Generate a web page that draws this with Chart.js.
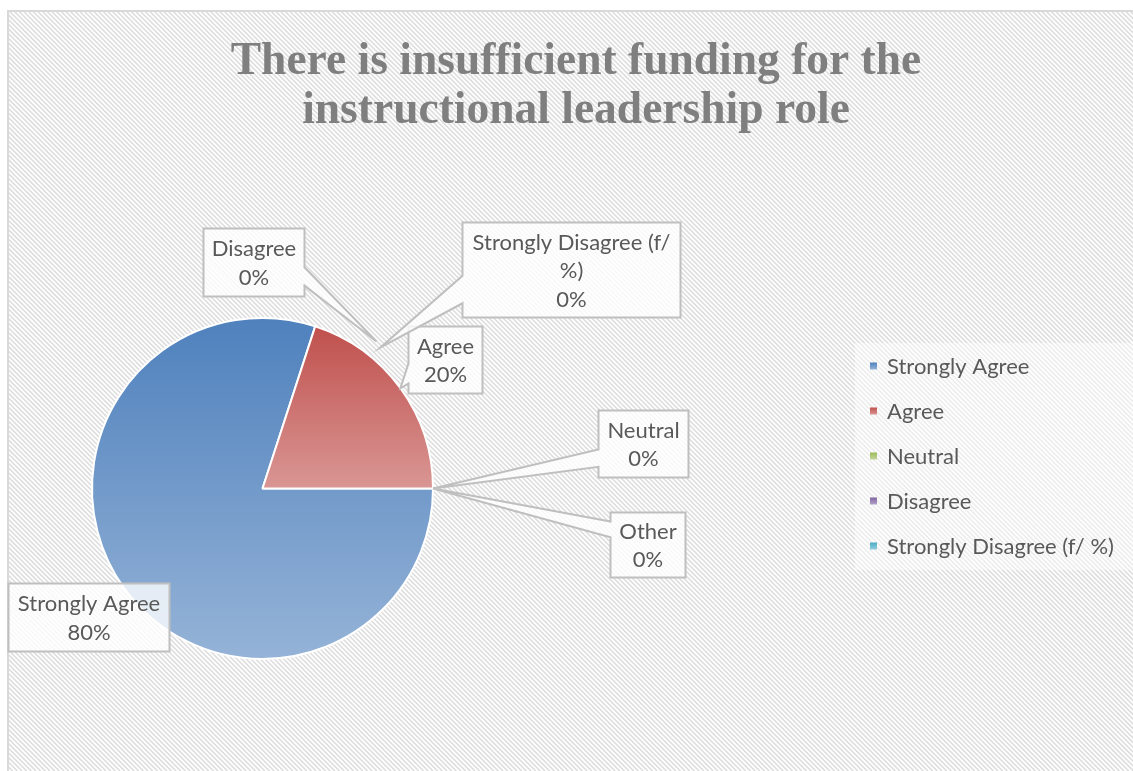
<!DOCTYPE html>
<html>
<head>
<meta charset="utf-8">
<title>Instructional leadership funding</title>
<script src="https://cdn.jsdelivr.net/npm/chart.js@4.4.1/dist/chart.umd.min.js"></script>
<style>
  html, body { margin: 0; padding: 0; background: #ffffff; }
  #wrap { position: relative; width: 1133px; height: 771px; }
</style>
</head>
<body>
<div id="wrap"><canvas id="chart"></canvas></div>
<script>
// ---- data ----
const categories = ['Strongly Agree', 'Agree', 'Neutral', 'Disagree', 'Strongly Disagree (f/ %)', 'Other'];
const responses = [80, 20, 0, 0, 0, 0];
const legendCategories = ['Strongly Agree', 'Agree', 'Neutral', 'Disagree', 'Strongly Disagree (f/ %)'];
const titleLines = ['There is insufficient funding for the', 'instructional leadership role'];

// ---- styling ----
const palette = {
  'Strongly Agree': ['#4F81BD', '#95B3D7'],
  'Agree': ['#C0504D', '#D99694'],
  'Neutral': ['#9BBB59', '#C3D69B'],
  'Disagree': ['#8064A2', '#B3A2C7'],
  'Strongly Disagree (f/ %)': ['#4BACC6', '#93CDDD'],
  'Other': ['#F79646', '#FAC090']
};
const TEXT_COLOR = '#595959';
const LABEL_FONT = "22px Lato, 'Open Sans', sans-serif";
const TITLE_FONT = "bold 45.5px 'Liberation Serif', 'DejaVu Serif', serif";
const SLICE_BORDER = 2;

// callout boxes: [dx, dy, w, h] from the pie centre; wedge side, wedge base (fractions of box height), tip
const calloutLayout = {
  'Strongly Agree': { box: [-254, 95, 161, 68] },
  'Agree': { box: [146, -162, 74, 67], side: 'left', base: [0.55, 0.85], tip: 'arc' },
  'Neutral': { box: [336, -78, 90, 67], side: 'left', base: [0.58, 0.84], tip: 'arc' },
  'Disagree': { box: [-59, -260, 101, 68], side: 'right', base: [0.57, 0.84], tip: [114, -147] },
  'Strongly Disagree (f/ %)': { box: [200, -266, 218, 95], side: 'left', base: [0.56, 0.85], tip: [118, -141] },
  'Other': { box: [348, 24, 75, 65], side: 'left', base: [0.14, 0.38], tip: 'arc' }
};
const legendLayout = { x: 870, y: 366, gap: 45, box: 7, textX: 887, panel: [855, 343, 278, 227] };
const titleLayout = { x: 576, baselines: [74, 123] };
const frame = { x: 8, y: 11 };

// vertical extent of a pie sector (angles clockwise from 3 o'clock)
function sectorExtent(a0, a1) {
  let lo = 0, hi = 0;
  [a0, a1].forEach(a => { const s = Math.sin(a); lo = Math.min(lo, s); hi = Math.max(hi, s); });
  for (let k = -2; k <= 4; k++) {
    const a = Math.PI / 2 + k * Math.PI;
    if (a > a0 && a < a1) { const s = Math.sin(a); lo = Math.min(lo, s); hi = Math.max(hi, s); }
  }
  return [lo, hi];
}

function sliceFill(context) {
  const chart = context.chart;
  const area = chart.chartArea;
  const i = context.dataIndex;
  if (!area || i === undefined) return palette[categories[0]][0];
  const cols = palette[categories[i]];
  const total = responses.reduce((a, b) => a + b, 0);
  const start = (chart.options.rotation - 90) * Math.PI / 180;
  let before = 0;
  for (let k = 0; k < i; k++) before += responses[k];
  const a0 = start + before / total * Math.PI * 2;
  const a1 = a0 + responses[i] / total * Math.PI * 2;
  const cy = (area.top + area.bottom) / 2;
  const r = (Math.min(area.width, area.height) - SLICE_BORDER) / 2;
  const [lo, hi] = sectorExtent(a0, a1);
  const y0 = cy + lo * r, y1 = cy + hi * r;
  if (y1 - y0 < 1) return cols[0];
  const g = chart.ctx.createLinearGradient(0, y0, 0, y1);
  g.addColorStop(0, cols[0]);
  g.addColorStop(1, cols[1]);
  return g;
}

function wrapText(ctx, text, maxWidth) {
  const words = text.split(' ');
  const lines = [];
  let line = '';
  words.forEach(w => {
    const test = line ? line + ' ' + w : w;
    if (line && ctx.measureText(test).width > maxWidth) { lines.push(line); line = w; }
    else line = test;
  });
  if (line) lines.push(line);
  return lines;
}

const backdropPlugin = {
  id: 'backdrop',
  beforeDraw(chart) {
    const ctx = chart.ctx;
    const W = chart.width, H = chart.height;
    ctx.save();
    ctx.fillStyle = '#ffffff';
    ctx.fillRect(0, 0, W, H);
    // hatched plot surface
    ctx.beginPath();
    ctx.rect(frame.x, frame.y, W - frame.x, H - frame.y);
    ctx.clip();
    ctx.strokeStyle = '#DEDEDE';
    ctx.lineWidth = 1.65;
    ctx.beginPath();
    const span = H - frame.y;
    for (let k = frame.x - span; k < W + 5; k += 4.67) {
      ctx.moveTo(k, frame.y);
      ctx.lineTo(k + span, frame.y + span);
    }
    ctx.stroke();
    ctx.restore();

    ctx.save();
    ctx.strokeStyle = '#D9D9D9';
    ctx.lineWidth = 2;
    ctx.beginPath();
    ctx.moveTo(frame.x, H);
    ctx.lineTo(frame.x, frame.y);
    ctx.lineTo(W, frame.y);
    ctx.stroke();

    // title
    ctx.fillStyle = '#7F7F7F';
    ctx.font = TITLE_FONT;
    ctx.textAlign = 'center';
    ctx.textBaseline = 'alphabetic';
    titleLines.forEach((t, i) => ctx.fillText(t, titleLayout.x, titleLayout.baselines[i]));

    // legend
    const p = legendLayout.panel;
    ctx.fillStyle = 'rgba(255,255,255,0.45)';
    ctx.fillRect(p[0], p[1], p[2], p[3]);
    ctx.font = LABEL_FONT;
    ctx.textAlign = 'left';
    ctx.textBaseline = 'middle';
    legendCategories.forEach((name, i) => {
      const y = legendLayout.y + i * legendLayout.gap;
      const b = legendLayout.box;
      const cols = palette[name];
      const g = ctx.createLinearGradient(0, y - b / 2, 0, y + b / 2);
      g.addColorStop(0, cols[0]);
      g.addColorStop(1, cols[1]);
      ctx.fillStyle = g;
      ctx.fillRect(legendLayout.x, y - b / 2, b, b);
      ctx.fillStyle = TEXT_COLOR;
      ctx.fillText(name, legendLayout.textX, y + 1);
    });
    ctx.restore();
  }
};

const calloutPlugin = {
  id: 'callouts',
  afterDatasetsDraw(chart) {
    const ctx = chart.ctx;
    const meta = chart.getDatasetMeta(0);
    const values = chart.data.datasets[0].data;
    const total = values.reduce((a, b) => a + b, 0);
    ctx.save();
    ctx.font = LABEL_FONT;
    ctx.textAlign = 'center';
    ctx.textBaseline = 'middle';
    meta.data.forEach((arc, i) => {
      const name = chart.data.labels[i];
      const lay = calloutLayout[name];
      if (!lay) return;
      const cx = arc.x, cy = arc.y;
      const [dx, dy, w, h] = lay.box;
      const x = cx + dx, y = cy + dy;
      let tip = null;
      if (lay.tip === 'arc') {
        const mid = (arc.startAngle + arc.endAngle) / 2;
        tip = { x: cx + Math.cos(mid) * arc.outerRadius, y: cy + Math.sin(mid) * arc.outerRadius };
      } else if (lay.tip) {
        tip = { x: cx + lay.tip[0], y: cy + lay.tip[1] };
      }
      ctx.beginPath();
      ctx.moveTo(x, y);
      ctx.lineTo(x + w, y);
      if (tip && lay.side === 'right') {
        ctx.lineTo(x + w, y + h * lay.base[0]);
        ctx.lineTo(tip.x, tip.y);
        ctx.lineTo(x + w, y + h * lay.base[1]);
      }
      ctx.lineTo(x + w, y + h);
      ctx.lineTo(x, y + h);
      if (tip && lay.side === 'left') {
        ctx.lineTo(x, y + h * lay.base[1]);
        ctx.lineTo(tip.x, tip.y);
        ctx.lineTo(x, y + h * lay.base[0]);
      }
      ctx.closePath();
      ctx.fillStyle = 'rgba(255,255,255,0.78)';
      ctx.fill();
      ctx.strokeStyle = '#BFBFBF';
      ctx.lineWidth = 2;
      ctx.lineJoin = 'miter';
      ctx.stroke();

      const pct = Math.round(values[i] / total * 100) + '%';
      const lines = wrapText(ctx, name, w - 16).concat([pct]);
      const lh = 28.5;
      const top = y + h / 2 - (lines.length - 1) * lh / 2;
      ctx.fillStyle = TEXT_COLOR;
      lines.forEach((t, k) => ctx.fillText(t, x + w / 2, top + k * lh + 1));
    });
    ctx.restore();
  }
};

new Chart(document.getElementById('chart'), {
  type: 'pie',
  data: {
    labels: categories,
    datasets: [{
      data: responses,
      backgroundColor: sliceFill,
      borderColor: '#ffffff',
      borderWidth: SLICE_BORDER,
      hoverOffset: 0,
      offset: 0
    }]
  },
  options: {
    responsive: true,
    maintainAspectRatio: false,
    animation: false,
    rotation: 90,
    layout: { padding: { left: 91, right: 699, top: 317, bottom: 111 } },
    plugins: {
      legend: { display: false },
      title: { display: false },
      tooltip: { enabled: false }
    }
  },
  plugins: [backdropPlugin, calloutPlugin]
});
</script>
</body>
</html>
